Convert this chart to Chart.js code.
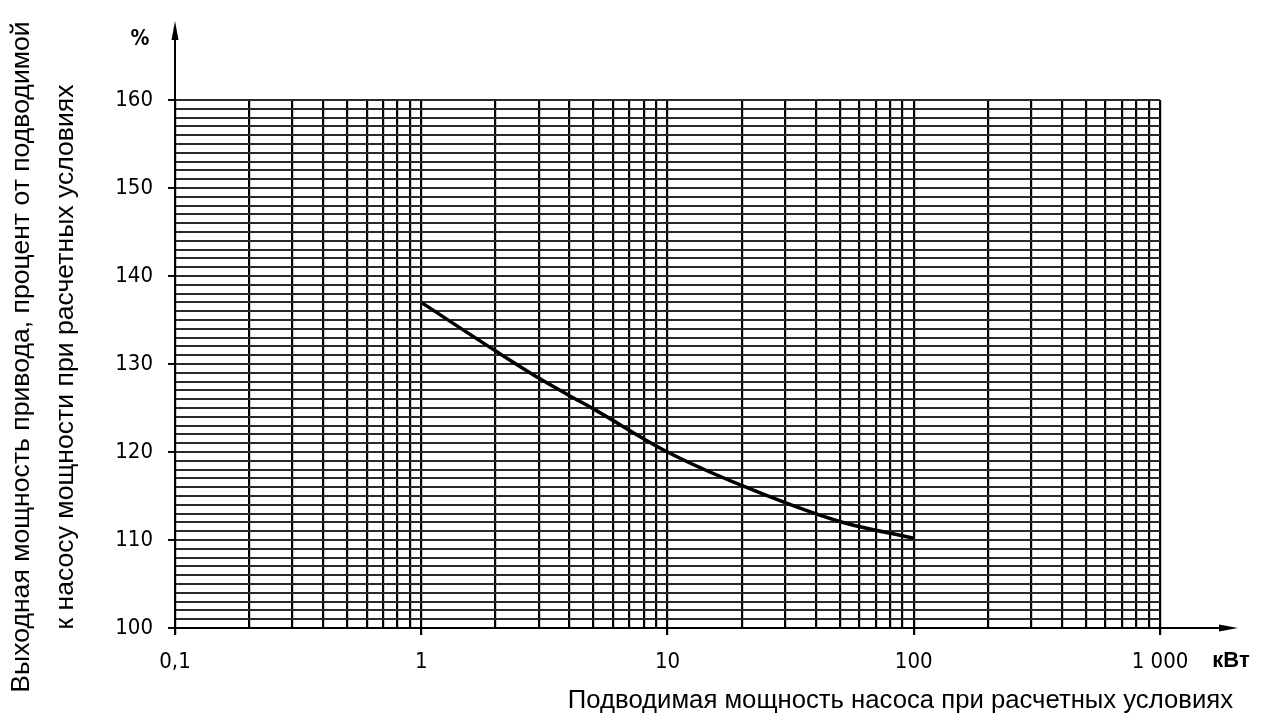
<!DOCTYPE html>
<html lang="ru">
<head>
<meta charset="utf-8">
<title>Выходная мощность привода</title>
<script src="https://cdn.jsdelivr.net/npm/chart.js@4.4.1/dist/chart.umd.min.js"></script>
<style>
    html, body { margin: 0; padding: 0; background: #fff; }
    canvas { display: block; }
</style>
</head>
<body>
<canvas id="chart" width="1271" height="720"></canvas>
<script>
// Кривая: подводимая мощность (кВт) -> выходная мощность привода (%)
const powerKW = [1, 2, 3, 4, 5, 10, 20, 50, 100]
const outputPercent = [137.0, 131.5, 128.4, 126.4, 124.9, 120.0, 116.2, 112.1, 110.2]

// Подписи осей
const xTickValues = [0.1, 1, 10, 100, 1000]
const xTickLabels = ['0,1', '1', '10', '100', '1 000']
const yTickValues = [100, 110, 120, 130, 140, 150, 160]
const yTickLabels = ['100', '110', '120', '130', '140', '150', '160']

const yTitle = ['Выходная мощность привода, процент от подводимой', 'к насосу мощности при расчетных условиях']
const xTitle = 'Подводимая мощность насоса при расчетных условиях'
const xUnit = 'кВт'
const yUnit = '%'

const textFont = "'Liberation Sans', Arial, sans-serif"
const tickFont = "'Liberation Sans Narrow', 'DejaVu Sans Condensed', 'Liberation Sans', Arial, sans-serif"

// Логарифмическая сетка: 1..9 в каждой декаде
function logGrid(min, max) {
    const values = []
    for (let decade = min; decade < max; decade *= 10) {
        for (let k = 1; k <= 9; k++) {
            values.push(+(k * decade).toPrecision(3))
        }
    }
    values.push(max)
    return values
}

function findLabel(values, labels, v) {
    const i = values.findIndex((t) => Math.abs(t - v) < 1e-9 * Math.max(1, t))
    return i >= 0 ? labels[i] : ''
}

// Стрелки осей, подписи единиц и заголовки осей
const axisExtras = {
    id: 'axisExtras',
    afterDraw(chart) {
        const ctx = chart.ctx
        const area = chart.chartArea
        ctx.save()
        ctx.strokeStyle = '#000'
        ctx.fillStyle = '#000'
        ctx.lineWidth = 2

        // ось Y вверх
        ctx.beginPath()
        ctx.moveTo(area.left, area.bottom)
        ctx.lineTo(area.left, 36)
        ctx.stroke()
        ctx.beginPath()
        ctx.moveTo(area.left, 21)
        ctx.lineTo(area.left - 3.5, 40)
        ctx.lineTo(area.left + 3.5, 40)
        ctx.closePath()
        ctx.fill()

        // ось X вправо
        ctx.beginPath()
        ctx.moveTo(area.left, area.bottom)
        ctx.lineTo(1224, area.bottom)
        ctx.stroke()
        ctx.beginPath()
        ctx.moveTo(1238, area.bottom)
        ctx.lineTo(1219, area.bottom - 3.5)
        ctx.lineTo(1219, area.bottom + 3.5)
        ctx.closePath()
        ctx.fill()

        ctx.textBaseline = 'middle'
        ctx.textAlign = 'center'
        ctx.fillStyle = '#000'
        ctx.font = "bold 21px " + tickFont
        ctx.fillText(yUnit, 140, 40)
        ctx.font = "bold 22px " + textFont
        ctx.fillText(xUnit, 1231, 661)

        ctx.font = "25.7px " + textFont
        ctx.textAlign = 'right'
        ctx.textBaseline = 'alphabetic'
        ctx.fillText(xTitle, 1233, 708)

        ctx.font = "26.6px " + textFont
        ctx.textAlign = 'center'
        ctx.textBaseline = 'middle'
        for (let i = 0; i < yTitle.length; i++) {
            ctx.save()
            ctx.translate(22 + i * 44, 357)
            ctx.rotate(-Math.PI / 2)
            ctx.fillText(yTitle[i], 0, 0)
            ctx.restore()
        }
        ctx.restore()
    }
}

const xGrid = logGrid(0.1, 1000)

new Chart(document.getElementById('chart'), {
    type: 'line',
    data: {
        datasets: [
            {
                data: powerKW.map((x, i) => ({ x, y: outputPercent[i] })),
                borderColor: '#000',
                borderWidth: 3.5,
                pointRadius: 0,
                cubicInterpolationMode: 'monotone',
                fill: false
            }
        ]
    },
    options: {
        responsive: false,
        animation: false,
        devicePixelRatio: 1,
        layout: { padding: { top: 100, right: 111, left: 0, bottom: 0 } },
        plugins: {
            legend: { display: false },
            tooltip: { enabled: false }
        },
        scales: {
            x: {
                type: 'logarithmic',
                min: 0.1,
                max: 1000,
                afterBuildTicks: (scale) => {
                    scale.ticks = xGrid.map((v) => ({ value: v }))
                },
                afterFit: (scale) => {
                    scale.height = 92
                },
                border: { display: true, color: '#000', width: 2 },
                grid: {
                    color: '#000',
                    lineWidth: 2.2,
                    tickLength: 7,
                    tickColor: (c) => (findLabel(xTickValues, xTickLabels, c.tick.value) ? '#000' : 'rgba(0,0,0,0)')
                },
                ticks: {
                    autoSkip: false,
                    maxRotation: 0,
                    padding: 14,
                    color: '#000',
                    font: { family: tickFont, size: 22 },
                    callback: (v) => findLabel(xTickValues, xTickLabels, v)
                }
            },
            y: {
                min: 100,
                max: 160,
                afterFit: (scale) => {
                    scale.width = 175
                },
                border: { display: true, color: '#000', width: 2 },
                grid: {
                    color: '#2a2a2a',
                    lineWidth: 1.9,
                    tickLength: 7,
                    tickColor: (c) => (findLabel(yTickValues, yTickLabels, c.tick.value) ? '#000' : 'rgba(0,0,0,0)')
                },
                ticks: {
                    stepSize: 1,
                    autoSkip: false,
                    padding: 15,
                    color: '#000',
                    font: { family: tickFont, size: 22 },
                    callback: (v) => findLabel(yTickValues, yTickLabels, v)
                }
            }
        }
    },
    plugins: [axisExtras]
})
</script>
</body>
</html>
